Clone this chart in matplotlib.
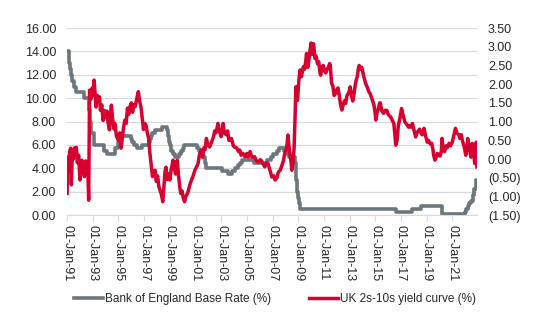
import matplotlib
matplotlib.use('Agg')
import matplotlib.pyplot as plt
import matplotlib.dates as mdates
from matplotlib.ticker import FuncFormatter
import pandas as pd

plt.rcParams['font.family'] = ['Liberation Sans', 'DejaVu Sans']

# Bank of England base rate: change dates and new rate (%)
boe_dates = ['1991-01-01', '1991-02-13', '1991-02-27', '1991-03-22', '1991-04-12',
             '1991-05-24', '1991-07-12', '1991-09-04', '1992-05-05', '1992-09-22',
             '1992-10-16', '1992-11-13', '1993-01-26', '1993-11-23', '1994-02-08',
             '1994-09-12', '1994-12-07', '1995-02-02', '1995-12-13', '1996-01-18',
             '1996-03-08', '1996-06-06', '1996-10-30', '1997-05-06', '1997-06-06',
             '1997-07-10', '1997-08-07', '1997-11-06', '1998-06-04', '1998-10-08',
             '1998-11-05', '1998-12-10', '1999-01-07', '1999-02-04', '1999-04-08',
             '1999-06-10', '1999-09-08', '1999-11-04', '2000-01-13', '2000-02-10',
             '2001-02-08', '2001-04-05', '2001-05-10', '2001-08-02', '2001-09-18',
             '2001-10-04', '2001-11-08', '2003-02-06', '2003-07-10', '2003-11-06',
             '2004-02-05', '2004-05-06', '2004-06-10', '2004-08-05', '2005-08-04',
             '2006-08-03', '2006-11-09', '2007-01-11', '2007-05-10', '2007-07-05',
             '2007-12-06', '2008-02-07', '2008-04-10', '2008-10-08', '2008-11-06',
             '2008-12-04', '2009-01-08', '2009-02-05', '2009-03-05', '2016-08-04',
             '2017-11-02', '2018-08-02', '2020-03-11', '2020-03-19', '2021-12-16',
             '2022-02-03', '2022-03-17', '2022-05-05', '2022-06-16', '2022-08-04',
             '2022-09-22', '2022-11-03', '2022-12-01']
boe_rate = [14.0, 13.5, 13.0, 12.5, 12.0, 11.5, 11.0, 10.5, 10.0, 9.0,
            8.0, 7.0, 6.0, 5.5, 5.25, 5.75, 6.25, 6.75, 6.5, 6.25,
            6.0, 5.75, 6.0, 6.25, 6.5, 6.75, 7.0, 7.25, 7.5, 7.25,
            6.75, 6.25, 6.0, 5.5, 5.25, 5.0, 5.25, 5.5, 5.75, 6.0,
            5.75, 5.5, 5.25, 5.0, 4.75, 4.5, 4.0, 3.75, 3.5, 3.75,
            4.0, 4.25, 4.5, 4.75, 4.5, 4.75, 5.0, 5.25, 5.5, 5.75,
            5.5, 5.25, 5.0, 4.5, 3.0, 2.0, 1.5, 1.0, 0.5, 0.25,
            0.5, 0.75, 0.25, 0.1, 0.25, 0.5, 0.75, 1.0, 1.25, 1.75,
            2.25, 3.0, 3.0]

# UK 2s-10s yield curve (%) (time in fractional years)
curve_year = [1991.00, 1991.05, 1991.12, 1991.20, 1991.28, 1991.33, 1991.40, 1991.50, 1991.58, 1991.65,
              1991.72, 1991.80, 1991.90, 1992.00, 1992.08, 1992.15, 1992.25, 1992.35, 1992.45, 1992.52,
              1992.60, 1992.68, 1992.75, 1992.85, 1992.95, 1993.05, 1993.10, 1993.18, 1993.25, 1993.35,
              1993.45, 1993.52, 1993.60, 1993.70, 1993.80, 1993.90, 1994.00, 1994.10, 1994.20, 1994.30,
              1994.38, 1994.45, 1994.55, 1994.65, 1994.72, 1994.85, 1995.00, 1995.10, 1995.20, 1995.30,
              1995.40, 1995.50, 1995.60, 1995.70, 1995.80, 1995.90, 1996.00, 1996.10, 1996.20, 1996.30,
              1996.45, 1996.55, 1996.65, 1996.75, 1996.85, 1996.95, 1997.05, 1997.15, 1997.25, 1997.35,
              1997.45, 1997.55, 1997.65, 1997.75, 1997.85, 1997.95, 1998.05, 1998.15, 1998.25, 1998.35,
              1998.45, 1998.55, 1998.62, 1998.70, 1998.80, 1998.90, 1999.00, 1999.10, 1999.25, 1999.35,
              1999.45, 1999.52, 1999.58, 1999.68, 1999.78, 1999.85, 1999.95, 2000.05, 2000.15, 2000.25,
              2000.40, 2000.55, 2000.70, 2000.80, 2000.95, 2001.10, 2001.20, 2001.30, 2001.45, 2001.55,
              2001.65, 2001.75, 2001.85, 2001.95, 2002.10, 2002.25, 2002.40, 2002.50, 2002.60, 2002.75,
              2002.85, 2003.00, 2003.08, 2003.15, 2003.25, 2003.40, 2003.50, 2003.60, 2003.70, 2003.80,
              2003.95, 2004.05, 2004.20, 2004.35, 2004.45, 2004.55, 2004.70, 2004.85, 2005.00, 2005.10,
              2005.25, 2005.40, 2005.60, 2005.75, 2005.90, 2006.05, 2006.15, 2006.30, 2006.40, 2006.55,
              2006.65, 2006.80, 2006.95, 2007.10, 2007.20, 2007.35, 2007.45, 2007.60, 2007.70, 2007.85,
              2007.95, 2008.10, 2008.20, 2008.28, 2008.35, 2008.45, 2008.50, 2008.60, 2008.68, 2008.75,
              2008.82, 2008.88, 2008.95, 2009.05, 2009.15, 2009.25, 2009.40, 2009.50, 2009.60, 2009.65,
              2009.75, 2009.80, 2009.90, 2010.00, 2010.08, 2010.15, 2010.20, 2010.30, 2010.40, 2010.50,
              2010.60, 2010.70, 2010.75, 2010.85, 2010.95, 2011.05, 2011.15, 2011.25, 2011.35, 2011.45,
              2011.50, 2011.60, 2011.70, 2011.80, 2011.90, 2012.00, 2012.10, 2012.20, 2012.30, 2012.40,
              2012.50, 2012.60, 2012.70, 2012.80, 2012.90, 2013.00, 2013.05, 2013.15, 2013.25, 2013.35,
              2013.45, 2013.55, 2013.60, 2013.70, 2013.75, 2013.85, 2013.95, 2014.05, 2014.15, 2014.25,
              2014.40, 2014.50, 2014.60, 2014.70, 2014.80, 2014.90, 2015.00, 2015.05, 2015.15, 2015.25,
              2015.35, 2015.40, 2015.50, 2015.65, 2015.75, 2015.90, 2016.00, 2016.10, 2016.20, 2016.30,
              2016.45, 2016.55, 2016.60, 2016.70, 2016.80, 2016.90, 2017.05, 2017.15, 2017.30, 2017.40,
              2017.50, 2017.60, 2017.70, 2017.80, 2017.90, 2018.00, 2018.15, 2018.25, 2018.35, 2018.45,
              2018.55, 2018.65, 2018.80, 2018.90, 2019.05, 2019.15, 2019.30, 2019.40, 2019.50, 2019.55,
              2019.65, 2019.75, 2019.85, 2019.95, 2020.05, 2020.15, 2020.20, 2020.30, 2020.40, 2020.50,
              2020.60, 2020.75, 2020.85, 2021.00, 2021.10, 2021.20, 2021.25, 2021.35, 2021.50, 2021.60,
              2021.70, 2021.80, 2021.95, 2022.05, 2022.15, 2022.20, 2022.30, 2022.45, 2022.55, 2022.65,
              2022.75, 2022.80, 2022.87, 2022.92]
curve_val = [-0.92, 0.05, -0.35, 0.20, 0.29, -0.69, 0.10, 0.00, 0.30, 0.15,
             0.31, -0.10, 0.10, -0.56, -0.20, -0.03, -0.30, -0.47, -0.05, -0.35,
             -0.10, -1.10, 1.84, 1.60, 1.90, 1.70, 2.11, 1.75, 1.39, 1.70,
             1.55, 1.66, 1.30, 1.45, 1.03, 1.30, 1.10, 1.28, 0.95, 0.78,
             1.20, 1.44, 1.05, 0.80, 0.95, 0.60, 0.50, 0.70, 0.29, 0.55,
             0.85, 1.04, 0.95, 1.36, 1.20, 1.40, 1.50, 1.25, 1.45, 1.40,
             1.65, 1.80, 1.55, 1.40, 1.10, 0.79, 0.95, 0.90, 0.70, 0.55,
             0.15, -0.15, -0.47, -0.35, -0.30, -0.60, -0.45, -0.74, -0.85, -0.95,
             -1.14, -0.70, -0.35, -0.22, -0.55, -0.40, -0.56, -0.30, -0.03, -0.25,
             -0.40, -0.10, -0.03, -0.45, -0.75, -0.92, -0.85, -1.05, -1.14, -1.00,
             -0.90, -0.70, -0.55, -0.47, -0.30, -0.20, -0.12, 0.10, 0.24, 0.05,
             0.30, 0.25, 0.55, 0.40, 0.32, 0.45, 0.59, 0.75, 0.70, 0.95,
             0.75, 0.60, 0.80, 0.95, 0.70, 0.65, 0.75, 0.50, 0.50, 0.55,
             0.35, 0.32, 0.30, 0.20, 0.24, 0.10, 0.15, 0.06, 0.15, 0.05,
             0.20, 0.05, 0.06, -0.05, -0.08, -0.02, -0.05, -0.15, -0.21, -0.10,
             -0.12, -0.30, -0.48, -0.45, -0.56, -0.50, -0.35, -0.30, -0.20, -0.05,
             0.15, 0.30, 0.64, 0.35, 0.15, -0.10, -0.30, -0.10, 0.30, 1.04,
             1.93, 1.60, 1.57, 2.10, 2.38, 2.20, 2.47, 2.40, 2.65, 2.82,
             2.45, 2.55, 2.85, 3.10, 2.80, 3.05, 3.08, 2.69, 2.75, 2.55,
             2.60, 2.30, 2.24, 2.45, 2.50, 2.35, 2.30, 2.40, 2.45, 2.55,
             2.50, 2.02, 1.95, 1.70, 1.75, 1.85, 1.90, 1.70, 1.45, 1.31,
             1.45, 1.55, 1.49, 1.70, 1.75, 1.85, 1.93, 1.70, 1.55, 1.75,
             2.00, 2.15, 2.20, 2.45, 2.50, 2.40, 2.45, 2.30, 2.15, 2.02,
             1.90, 1.80, 1.75, 1.65, 1.55, 1.45, 1.20, 1.04, 1.25, 1.35,
             1.50, 1.50, 1.30, 1.22, 1.30, 1.30, 1.20, 1.15, 1.13, 1.05,
             0.95, 0.55, 0.37, 0.50, 0.90, 1.05, 1.35, 1.20, 1.00, 0.95,
             0.90, 0.85, 0.90, 0.85, 0.95, 0.80, 0.59, 0.70, 0.75, 0.80,
             0.70, 0.65, 0.82, 0.65, 0.45, 0.50, 0.40, 0.42, 0.25, 0.10,
             -0.03, 0.05, 0.15, 0.10, 0.08, 0.20, 0.55, 0.25, 0.20, 0.35,
             0.30, 0.42, 0.35, 0.45, 0.60, 0.75, 0.82, 0.70, 0.65, 0.55,
             0.65, 0.48, 0.30, 0.10, 0.30, 0.55, 0.35, 0.05, 0.42, 0.25,
             -0.12, 0.05, 0.45, -0.21]

GREY = '#6D757D'
RED = '#D7002F'
GRID = '#D9D9D9'
TXT = '#262626'

boe_x = pd.to_datetime(boe_dates)
start = pd.Timestamp('1991-01-01')
curve_x = [start + pd.Timedelta(days=(y - 1991.0) * 365.25) for y in curve_year]

fig = plt.figure(figsize=(5.5, 3.3), dpi=100)
ax = fig.add_axes([0.122, 0.348, 0.745, 0.567])
ax2 = ax.twinx()

ax.plot(boe_x, boe_rate, drawstyle='steps-post', color=GREY, lw=2.6,
        label='Bank of England Base Rate (%)')
ax2.plot(curve_x, curve_val, color=RED, lw=2.5, label='UK 2s-10s yield curve (%)')

ax.set_ylim(0, 16)
ax.set_yticks(range(0, 17, 2))
ax.yaxis.set_major_formatter(FuncFormatter(lambda v, p: f'{v:.2f}'))
ax2.set_ylim(-1.5, 3.5)
ax2.set_yticks([-1.5, -1.0, -0.5, 0.0, 0.5, 1.0, 1.5, 2.0, 2.5, 3.0, 3.5])
ax2.yaxis.set_major_formatter(FuncFormatter(
    lambda v, p: f'({abs(v):.2f})' if v < -1e-9 else f'{v:.2f}'))

ax.set_xlim(start, pd.Timestamp('2022-12-01'))
ax.set_xticks(pd.date_range('1991-01-01', '2021-01-01', freq='24MS'))
ax.xaxis.set_major_formatter(mdates.DateFormatter('%d-%b-%y'))

ax.grid(axis='y', color=GRID, lw=0.9)
ax.set_axisbelow(True)
for a in (ax, ax2):
    for s in ['top', 'left', 'right']:
        a.spines[s].set_visible(False)
    a.spines['bottom'].set_color(GRID)
ax2.spines['bottom'].set_visible(False)

ax.tick_params(axis='y', length=0, pad=8, labelsize=9, labelcolor=TXT)
ax2.tick_params(axis='y', length=0, pad=8, labelsize=9, labelcolor=TXT)
ax.tick_params(axis='x', length=4, color=GRID, labelsize=9, labelcolor=TXT,
               labelrotation=-90, pad=3)

h1, l1 = ax.get_legend_handles_labels()
h2, l2 = ax2.get_legend_handles_labels()
fig.legend(h1 + h2, l1 + l2, loc='center', bbox_to_anchor=(0.5, 0.094), ncol=2,
           frameon=False, fontsize=8.5, handlelength=2.5, handletextpad=0.15,
           columnspacing=3.2, labelcolor=TXT)

fig.savefig('out.png', dpi=100)
